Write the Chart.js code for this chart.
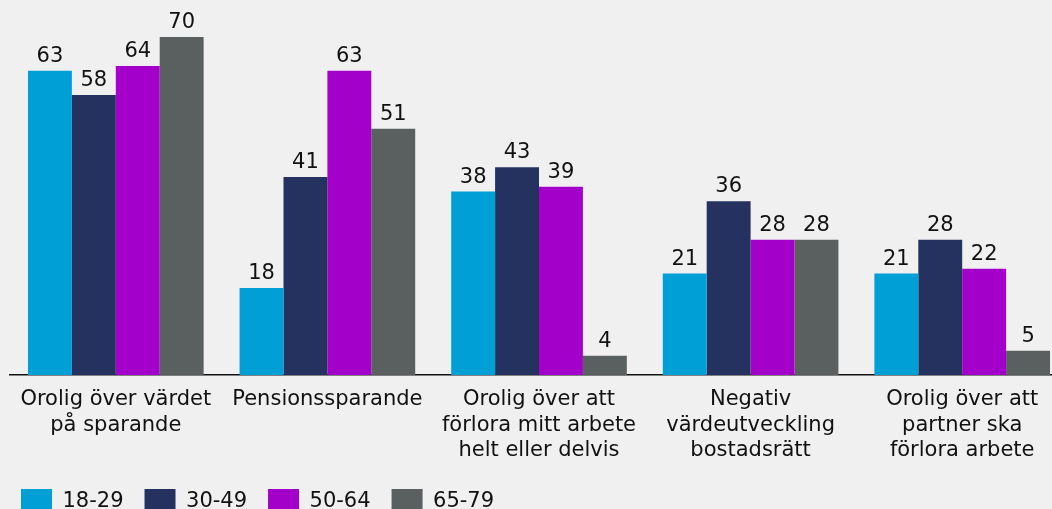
<!DOCTYPE html>
<html>
<head>
<meta charset="utf-8">
<script src="https://cdn.jsdelivr.net/npm/chart.js@4/dist/chart.umd.min.js"></script>
<style>
  html, body { margin: 0; padding: 0; background: #f0f0f0; overflow: hidden; }
  #wrap { position: relative; width: 1068px; height: 525px; }
</style>
</head>
<body>
<div id="wrap"><canvas id="chart"></canvas></div>
<script>
const categories = [
    ['Orolig över värdet', 'på sparande'],
    ['Pensionssparande'],
    ['Orolig över att', 'förlora mitt arbete', 'helt eller delvis'],
    ['Negativ', 'värdeutveckling', 'bostadsrätt'],
    ['Orolig över att', 'partner ska', 'förlora arbete']
];
const seriesNames = ['18-29', '30-49', '50-64', '65-79'];
const age18_29 = [63, 18, 38, 21, 21];
const age30_49 = [58, 41, 43, 36, 28];
const age50_64 = [64, 63, 39, 28, 22];
const age65_79 = [70, 51, 4, 28, 5];
const colors = ['#00a0d7', '#25325f', '#a300ca', '#5a5f5f'];

const FONT = 'DejaVu Sans, Verdana, sans-serif';
const TEXT = '#111111';

// value labels above each bar
const valueLabels = {
    id: 'valueLabels',
    afterDatasetsDraw(chart) {
        const ctx = chart.ctx;
        ctx.save();
        ctx.font = '21px ' + FONT;
        ctx.fillStyle = TEXT;
        ctx.textAlign = 'center';
        ctx.textBaseline = 'alphabetic';
        chart.data.datasets.forEach((ds, i) => {
            chart.getDatasetMeta(i).data.forEach((bar, j) => {
                ctx.fillText(ds.data[j], bar.x, bar.y - 9);
            });
        });
        ctx.restore();
    }
};

const seriesData = [age18_29, age30_49, age50_64, age65_79];

new Chart(document.getElementById('chart'), {
    type: 'bar',
    data: {
        labels: categories,
        datasets: seriesData.map((d, i) => ({
            label: seriesNames[i],
            data: d,
            backgroundColor: colors[i],
            borderWidth: 0,
            barPercentage: 1,
            categoryPercentage: 0.83
        }))
    },
    options: {
        responsive: true,
        maintainAspectRatio: false,
        animation: false,
        layout: { padding: { top: 37, left: 0, right: 0, bottom: 0 } },
        plugins: {
            tooltip: { enabled: false },
            legend: {
                position: 'bottom',
                align: 'start',
                labels: {
                    boxWidth: 31,
                    boxHeight: 26,
                    padding: 21,
                    color: TEXT,
                    font: { family: FONT, size: 21 }
                }
            }
        },
        scales: {
            x: {
                grid: { display: false, drawTicks: false },
                border: { display: true, color: '#111111', width: 1.5 },
                ticks: {
                    color: TEXT,
                    padding: 12,
                    maxRotation: 0,
                    autoSkip: false,
                    font: { family: FONT, size: 21, lineHeight: 1.21 }
                },
                afterFit: s => { s.height = 93; }
            },
            y: {
                min: 0,
                max: 70,
                grid: { display: false },
                border: { display: false },
                ticks: { display: false },
                afterFit: s => { s.width = 10; }
            }
        }
    },
    plugins: [valueLabels]
});
</script>
</body>
</html>
